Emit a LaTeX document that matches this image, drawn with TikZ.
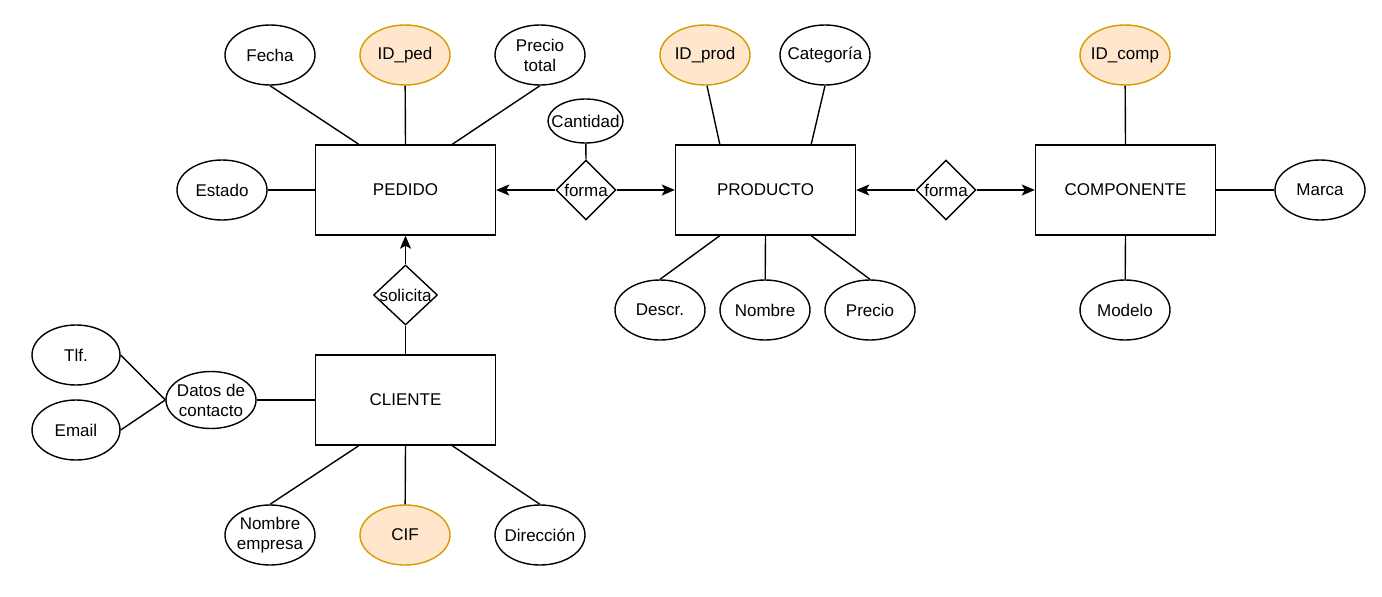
\documentclass[tikz,border=0pt]{standalone}
\usepackage{fontspec}
\setmainfont{Liberation Sans}
\usetikzlibrary{shapes.geometric,arrows.meta}
\definecolor{keyfill}{HTML}{FFE6CC}
\definecolor{keydraw}{HTML}{D79B00}
\begin{document}
\begin{tikzpicture}[x=1pt,y=-1pt,
 every node/.style={font=\fontsize{17}{20}\selectfont},
 ent/.style={draw,line width=1.4pt,minimum width=180pt,minimum height=90pt,inner sep=0},
 attr/.style={draw,ellipse,line width=1.4pt,minimum width=90pt,minimum height=60pt,inner sep=0},
 key/.style={attr,fill=keyfill,draw=keydraw},
 rel/.style={draw,diamond,line width=1.4pt,minimum width=60pt,minimum height=60pt,inner sep=0},
 conn/.style={line width=1.4pt},
 arr/.style={conn,-{Stealth[length=13pt,width=11pt,inset=3pt]}}]
\useasboundingbox[fill=white] (0,0) rectangle (1382,597);

% entities
\node[ent] (ped) at (405.5,190) {PEDIDO};
\node[ent] (prod) at (765.5,190) {PRODUCTO};
\node[ent] (comp) at (1125.5,190) {COMPONENTE};
\node[ent] (cli) at (405.5,400) {CLIENTE};

% relationships
\node[rel,label={center:forma}] (f1) at (586,190) {};
\node[rel,label={center:forma}] (f2) at (946,190) {};
\node[rel,minimum width=64pt,label={center:solicita}] (sol) at (405.5,295) {};

% attributes PEDIDO
\node[attr,label={center:Fecha}] (fecha) at (270,55) {};
\node[key,label={center:ID\_ped}] (idped) at (405,55) {};
\node[attr,label={[align=center]center:Precio\\total}] (ptot) at (540,55) {};
\node[attr,label={center:Estado}] (estado) at (222,190) {};
\node[attr,minimum width=75pt,minimum height=44pt,label={center:Cantidad}] (cant) at (585.5,121) {};

% attributes PRODUCTO
\node[key,label={center:ID\_prod}] (idprod) at (705,55) {};
\node[attr,label={center:Categoría}] (cat) at (825,55) {};
\node[attr,label={center:Descr.}] (descr) at (660,310) {};
\node[attr,label={center:Nombre}] (nombre) at (765,310) {};
\node[attr,label={center:Precio}] (precio) at (870,310) {};

% attributes COMPONENTE
\node[key,label={center:ID\_comp}] (idcomp) at (1125,55) {};
\node[attr,label={center:Marca}] (marca) at (1320,190) {};
\node[attr,label={center:Modelo}] (modelo) at (1125,310) {};

% attributes CLIENTE
\node[attr,minimum width=88pt,label={center:Tlf.}] (tlf) at (76,355) {};
\node[attr,minimum width=88pt,label={center:Email}] (email) at (76,430) {};
\node[attr,minimum width=90pt,minimum height=57pt,label={[align=center]center:Datos de\\contacto}] (datos) at (211,400) {};
\node[attr,label={[align=center]center:Nombre\\empresa}] (nemp) at (270,535) {};
\node[key,label={center:CIF}] (cif) at (405,535) {};
\node[attr,label={center:Dirección}] (dir) at (540,535) {};

% connectors PEDIDO
\draw[conn] (fecha.south) -- ([xshift=44pt]ped.north west);
\draw[conn] (idped) -- (ped.north);
\draw[conn] (ptot.south) -- ([xshift=-44pt]ped.north east);
\draw[conn] (estado) -- (ped.west);
\draw[arr] (f1.west) -- (ped.east);
\draw[arr] (f1.east) -- (prod.west);
\draw[conn] (cant) -- (f1.north);

% connectors PRODUCTO
\draw[conn] ([xshift=2pt]idprod.south) -- ([xshift=45pt]prod.north west);
\draw[conn] (cat.south) -- ([xshift=-45pt]prod.north east);
\draw[conn] (descr.north) -- ([xshift=45pt]prod.south west);
\draw[conn] (nombre) -- (prod.south);
\draw[conn] (precio.north) -- ([xshift=-45pt]prod.south east);
\draw[arr] (f2.west) -- (prod.east);
\draw[arr] (f2.east) -- (comp.west);

% connectors COMPONENTE
\draw[conn] (idcomp) -- (comp.north);
\draw[conn] (marca) -- (comp.east);
\draw[conn] (modelo) -- (comp.south);

% connectors CLIENTE
\draw[arr] (sol.north) -- (ped.south);
\draw[conn] (cli.north) -- (sol.south);
\draw[conn] (datos.east) -- (cli.west);
\draw[conn] (tlf.east) -- (datos.west);
\draw[conn] (email.east) -- (datos.west);
\draw[conn] (nemp.north) -- ([xshift=44pt]cli.south west);
\draw[conn] (cif) -- (cli.south);
\draw[conn] (dir.north) -- ([xshift=-44pt]cli.south east);
\end{tikzpicture}
\end{document}
